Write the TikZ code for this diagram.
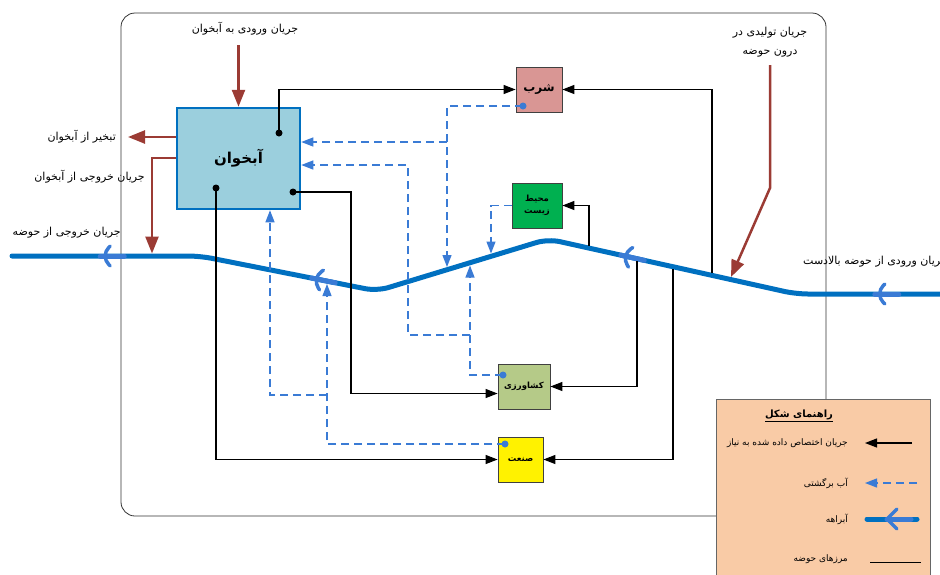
\documentclass[tikz,border=0pt]{standalone}
\usepackage{fontspec}
\newfontfamily\fafont[Script=Arabic]{DejaVu Sans}
\TeXXeTstate=1
\usetikzlibrary{arrows.meta,decorations.markings}

\definecolor{riverblue}{HTML}{0070C0}
\definecolor{retblue}{HTML}{3A7BD5}
\definecolor{srcred}{HTML}{9B3B34}
\definecolor{aqfill}{HTML}{9BCFDD}
\definecolor{shorbfill}{HTML}{D99694}
\definecolor{mohitfill}{HTML}{00B050}
\definecolor{keshfill}{HTML}{B5CA88}
\definecolor{legfill}{HTML}{F9CBA6}

\newcommand{\fatxt}[1]{\beginR #1\endR}
\newcommand{\flowchev}{%
  \draw[retblue, line width=5pt] (-24pt,0pt) -- (0pt,0pt);
  \draw[retblue, line width=3.5pt, line cap=round, line join=round]
    (-10pt,10pt) -- (0pt,0pt) -- (-10pt,-10pt);}

\begin{document}
\begin{tikzpicture}[
  x=1pt, y=-1pt,
  every node/.style={font=\fafont\fontsize{11}{13}\selectfont, inner sep=1pt},
  box/.style={draw=black!75, line width=0.8pt, minimum height=45pt, inner sep=1pt,
              align=center, font=\fafont\bfseries\fontsize{8.5}{12}\selectfont},
  need/.style={-{Triangle[length=12pt,width=9pt]}, line width=1.2pt},
  ret/.style={-{Triangle[length=12pt,width=9pt]}, retblue, line width=1.3pt,
              dash pattern=on 8pt off 5pt},
  src/.style={-{Triangle[length=17pt,width=13pt]}, srcred, line width=2.5pt},
  river/.style={riverblue, line width=5pt, line cap=round},
  legtxt/.style={font=\fafont\fontsize{9}{11}\selectfont, anchor=east},
]
\useasboundingbox (0,0) rectangle (940,574);

% basin boundary
\draw[black!80, line width=0.8pt, rounded corners=14pt] (121,13) rectangle (826,516);

% river
\draw[river, rounded corners=12pt, postaction={decorate},
      decoration={markings,
        mark=at position 0.074 with {\flowchev},
        mark=at position 0.346 with {\flowchev},
        mark=at position 0.682 with {\flowchev},
        mark=at position 0.907 with {\flowchev}}]
  (945,294) -- (796,294) -- (548,239) -- (377,291) -- (200,256) -- (12,256);

\node[box, fill=aqfill, draw=riverblue, line width=2.5pt, minimum width=123pt,
      minimum height=101pt, font=\fafont\bfseries\fontsize{15}{18}\selectfont]
      (aq) at (238.5,158.5) {\fatxt{آبخوان}};
\node[box, fill=shorbfill, minimum width=46pt,
      font=\fafont\bfseries\fontsize{12}{16}\selectfont] (shorb) at (539,89.5) {\fatxt{شرب}};
\node[box, fill=mohitfill, minimum width=50pt] (mohit) at (537,205.5)
      {\fatxt{محیط}\\\fatxt{زیست}};
\node[box, fill=keshfill, minimum width=52pt] (kesh) at (524,386.5) {\fatxt{کشاورزی}};
\node[box, fill=yellow, minimum width=45pt] (sanat) at (520.5,459.5) {\fatxt{صنعت}};

\coordinate (aqA) at (279,133);
\coordinate (aqB) at (293,192);
\coordinate (aqC) at (216,188);
\coordinate (r1) at (589,245.5);
\coordinate (r2) at (637,261);
\coordinate (r3) at (673,269);
\coordinate (r4) at (712,273);
\coordinate (sd) at (523,106);
\coordinate (kd) at (503,375);
\coordinate (sdn) at (505,444);
\coordinate (rA) at (447,267);
\coordinate (rB) at (470,265.5);
\coordinate (rC) at (491,253.5);
\coordinate (rD) at (327,284);
\coordinate (jA) at (447,142);
\coordinate (jB) at (470,335);
\coordinate (jB2) at (408,165);
\coordinate (jD) at (327,395);

% allocated flows
\draw[need] (aqA) |- (shorb);
\draw[need] (r4) |- (shorb);
\draw[need] (aqB) -- (351,192) |- ([yshift=-7pt]kesh.west);
\draw[need] (aqC) |- (sanat);
\draw[need] (r1) |- (mohit);
\draw[need] (r2) |- (kesh);
\draw[need] (r3) |- (sanat);
\fill (aqA) circle (3.5pt) (aqB) circle (3.5pt) (aqC) circle (3.5pt);

% return flows
\draw[ret] (sd) -| (rA);
\draw[ret] (jA) -- (aq.east |- jA);
\draw[ret] (kd) -| (rB);
\draw[ret] (jB) -| (jB2) -- (aq.east |- jB2);
\draw[ret] (mohit.west) -| (rC);
\draw[ret] (sdn) -| (rD);
\draw[ret] (jD) -| ([xshift=31.5pt]aq.south);
\fill[retblue] (sd) circle (3.5pt) (kd) circle (3.5pt) (sdn) circle (3.5pt);

% sources and losses
\draw[src] (238.5,45) -- (aq.north);
\draw[src] (aq.west |- 0,137) -- (128,137);
\draw[src] (aq.west |- 0,158) -| (152,253.5);
\draw[src] (770,65) -- (770,188) -- (731,277);

\node (tIn) at (245,29) {\fatxt{جریان ورودی به آبخوان}};
\node[anchor=east] (tEv) at (117,137) {\fatxt{تبخیر از آبخوان}};
\node[anchor=east] (tOutAq) at (146,177) {\fatxt{جریان خروجی از آبخوان}};
\node[anchor=east] (tOutB) at (122,233) {\fatxt{جریان خروجی از حوضه}};
\node[align=center, font=\fafont\fontsize{11}{19}\selectfont] (tGen) at (770,42)
      {\fatxt{جریان تولیدی در}\\\fatxt{درون حوضه}};
\node[anchor=west] (tUp) at (802,262) {\fatxt{جریان ورودی از حوضه بالادست}};

% legend
\node[draw=black!60, fill=legfill, minimum width=214pt, minimum height=200pt,
      anchor=north west] (leg) at (716,399) {};
\node[font=\fafont\bfseries\fontsize{10}{12}\selectfont] (legT) at (799,416)
      {\underline{\fatxt{راهنمای شکل}}};
\node[legtxt] (l1) at (849,443) {\fatxt{جریان اختصاص داده شده به نیاز}};
\node[legtxt] (l2) at (849,483) {\fatxt{آب برگشتی}};
\node[legtxt] (l3) at (849,519) {\fatxt{آبراهه}};
\node[legtxt] (l4) at (849,559) {\fatxt{مرزهای حوضه}};
\draw[need] ([xshift=63pt]l1.east) -- ([xshift=16pt]l1.east);
\draw[ret] ([xshift=68pt]l2.east) -- ([xshift=16pt]l2.east);
\draw[river, postaction={decorate},
      decoration={markings, mark=at position 0.6 with {\flowchev}}]
  ([xshift=68pt]l3.east) -- ([xshift=18pt]l3.east);
\draw[line width=0.8pt] ([xshift=21pt,yshift=-3pt]l4.east) -- ([xshift=72pt,yshift=-3pt]l4.east);
\end{tikzpicture}
\end{document}
